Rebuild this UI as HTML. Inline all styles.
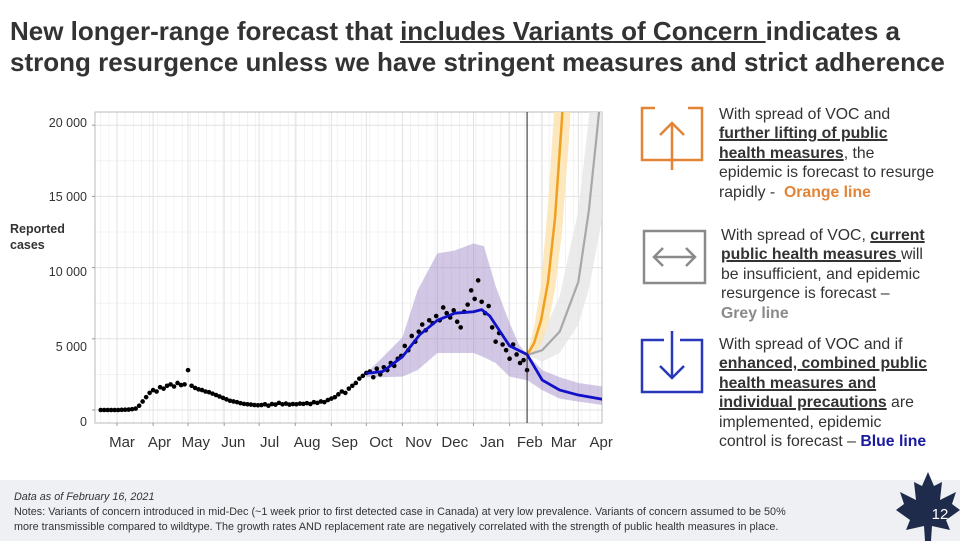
<!DOCTYPE html>
<html><head><meta charset="utf-8">
<style>
body{margin:0;width:960px;height:541px;overflow:hidden;background:#fff;font-family:"Liberation Sans",Arial,sans-serif;position:relative}
.title{position:absolute;left:10px;top:16px;font-size:26px;font-weight:bold;color:#333;line-height:31px;white-space:nowrap}
.title u{text-decoration-thickness:2px}
.txt{position:absolute;left:719px;font-size:15.8px;line-height:19.4px;color:#333;width:240px;white-space:nowrap}
.txt b{text-decoration:underline;text-decoration-thickness:1.5px}
.footer{position:absolute;left:0;top:480px;width:960px;height:61px;background:#eef0f3}
.footer div{position:absolute;left:14px;font-size:10.8px;color:#333;line-height:15px;white-space:nowrap}
</style></head><body>
<div class="title">New longer-range forecast that <u>includes Variants of Concern </u>indicates a<br>strong resurgence unless we have stringent measures and strict adherence</div>

<svg id="chart" width="620" height="460" style="position:absolute;left:0;top:100px" viewBox="0 100 620 460"></svg>

<svg style="position:absolute;left:630px;top:95px" width="90" height="360">
 <g fill="none" stroke="#e28436" stroke-width="2.5">
  <polyline points="25,13 12,13 12,65 72,65 72,13 58,13"/>
  <line x1="42" y1="75" x2="42" y2="28"/><polyline points="30,40 42,28 54,40"/>
 </g>
 <g fill="none" stroke="#8a8a8a" stroke-width="2.5">
  <rect x="14" y="136" width="61" height="52"/>
  <line x1="24" y1="162" x2="65" y2="162"/><polyline points="33,153 24,162 33,171"/><polyline points="56,153 65,162 56,171"/>
 </g>
 <g fill="none" stroke="#2838b8" stroke-width="2.5">
  <polyline points="34,245 12,245 12,297 72,297 72,245 50,245"/>
  <line x1="42" y1="236" x2="42" y2="283"/><polyline points="30,271 42,283 54,271"/>
 </g>
</svg>

<div class="txt" style="top:105px">With spread of VOC and<br><b>further lifting of public</b><br><b>health measures</b>, the<br>epidemic is forecast to resurge<br>rapidly -&nbsp; <span style="color:#e28436;font-weight:bold">Orange line</span></div>
<div class="txt" style="top:226px;left:721px">With spread of VOC, <b>current</b><br><b>public health measures </b>will<br>be insufficient, and epidemic<br>resurgence is forecast –<br><span style="color:#8a8a8a;font-weight:bold">Grey line</span></div>
<div class="txt" style="top:335px">With spread of VOC and if<br><b>enhanced, combined public</b><br><b>health measures and</b><br><b>individual precautions</b> are<br>implemented, epidemic<br>control is forecast – <span style="color:#1a1aa0;font-weight:bold">Blue line</span></div>

<div class="footer">
 <div style="top:10px;font-style:italic">Data as of February 16, 2021</div>
 <div style="top:25px">Notes: Variants of concern introduced in mid-Dec (~1 week prior to first detected case in Canada) at very low prevalence. Variants of concern assumed to be 50%<br>more transmissible compared to wildtype. The growth rates AND replacement rate are negatively correlated with the strength of public health measures in place.</div>
</div>
<svg style="position:absolute;left:896px;top:470px" width="64" height="71">
 <polygon fill="#1f2b4a" points="32,2 38,16 46,12 44,30 60,22 56,34 64,40 50,50 54,60 36,56 35,71 29,71 28,56 10,60 14,50 0,40 8,34 4,22 20,30 18,12 26,16"/>
 <text x="44" y="49" fill="#fff" font-size="15" text-anchor="middle" font-family="Liberation Sans, sans-serif">12</text>
</svg>

<script>
const monthLabels=["Mar","Apr","May","Jun","Jul","Aug","Sep","Oct","Nov","Dec","Jan","Feb","Mar","Apr"];
const monthStartDays=[0,31,61,92,122,153,184,214,245,275,306,337,365,396];
const yTicks=[0,5000,10000,15000,20000];
const yTickLabels=["0","5 000","10 000","15 000","20 000"];
const obsStartDay=-14;
const obsStep=3;
const observed=[0,0,0,0,0,0,10,20,30,60,100,
300,600,900,1200,1400,1300,1600,1500,1700,1800,1650,1900,1750,1800,
2800,1700,1550,1450,1400,1300,1250,1150,1050,950,850,750,650,600,550,480,430,400,380,350,330,
350,400,300,420,380,500,400,450,380,420,400,450,430,480,420,550,500,600,550,700,
800,900,1100,1300,1200,1500,1700,1900,2200,2400,
2600,2700,2300,2900,2500,3000,2800,3300,3100,3600,
3800,4500,4200,5200,4800,5500,6000,5600,6300,6100,
6600,6300,7200,6800,6500,7000,6200,5800,6900,7400,
8400,7800,9100,7600,6800,7300,5800,4800,5400,4600,
4200,3600,4600,3900,3300,3500,2800];
const blueDays=[214,228,245,260,275,290,306,313,320,337,352,365,380,396,417];
const blueMid=[2570,2700,3740,5300,6300,6800,6900,7050,6600,4500,3900,2100,1400,1050,750];
const bandDays=[214,228,245,258,275,290,306,315,325,337,345,352,365,380,396,417];
const bandHigh=[2570,3700,5100,8400,11000,11200,11700,11500,8700,6100,4600,3900,2800,2300,1900,1650];
const bandLow=[2300,2300,2340,2800,4000,4000,4000,3700,3300,2340,2200,2100,1400,800,590,350];
const orangeDays=[352,358,364,370,376,382,388,394];
const orangeMid=[3860,4700,6300,9000,13500,20500,30000,45000];
const orangeHigh=[3860,5800,8800,14500,22000,33000,50000,70000];
const orangeLow=[3860,4000,4600,6000,8500,12500,19000,28000];
const greyDays=[352,365,380,396,405,412,420];
const greyMid=[3860,4200,5500,9000,14000,19500,26000];
const greyHigh=[3860,5200,8000,14000,20500,29000,40000];
const greyLow=[3860,3400,4000,6000,8500,11500,15000];
const dataCutoffDay=352;

const NS="http://www.w3.org/2000/svg";
const svg=document.getElementById('chart');
const PL=95,PR=602,PT=112,PB=423;
const x=d=>117+d*1.165;
const xl=d=>122+d*1.21;
const y=v=>410-v*71.2/5000;
function mk(tag,attrs,parent){const e=document.createElementNS(NS,tag);for(const k in attrs)e.setAttribute(k,attrs[k]);(parent||svg).appendChild(e);return e;}
const defs=mk('defs',{});const cp=mk('clipPath',{id:'clip'},defs);mk('rect',{x:PL,y:PT,width:PR-PL,height:PB-PT},cp);

const grid=mk('g',{});


for(let d=-14;d<=417;d+=7){mk('line',{x1:x(d),x2:x(d),y1:PT,y2:PB,stroke:'#f0f0f0','stroke-width':0.8},grid);}
for(let v=0;v<=21000;v+=2500){mk('line',{x1:PL,x2:PR,y1:y(v),y2:y(v),stroke:v%5000?'#f0f0f0':'#e2e2e2','stroke-width':v%5000?0.8:1},grid);}
monthStartDays.forEach(d=>mk('line',{x1:x(d),x2:x(d),y1:PT,y2:PB,stroke:'#e2e2e2','stroke-width':1},grid));
mk('rect',{x:PL,y:PT,width:PR-PL,height:PB-PT,fill:'none',stroke:'#bbb','stroke-width':1});

const plot=mk('g',{'clip-path':'url(#clip)'});
function bandPath(days,hi,lo){let s='M'+days.map((d,i)=>x(d)+','+y(hi[i])).join('L');s+='L'+days.slice().reverse().map((d,i)=>x(d)+','+y(lo[lo.length-1-i])).join('L')+'Z';return s;}
function linePts(days,vals){return days.map((d,i)=>x(d)+','+y(vals[i])).join(' ');}

const gb=mk('path',{d:bandPath(greyDays,greyHigh,greyLow),fill:'#e6e6e6',opacity:0.8},plot);


const ob=mk('path',{d:bandPath(orangeDays,orangeHigh,orangeLow),fill:'#fde3b0',opacity:0.85},plot);


const bb=mk('path',{d:bandPath(bandDays,bandHigh,bandLow),fill:'#9c86c6',opacity:0.45},plot);



const gl=mk('polyline',{points:linePts(greyDays,greyMid),fill:'none',stroke:'#a8a8a8','stroke-width':2.2},plot);


const ol=mk('polyline',{points:linePts(orangeDays,orangeMid),fill:'none',stroke:'#f0a020','stroke-width':2.5},plot);



const dots=mk('g',{fill:'#000'},plot);


observed.forEach((v,i)=>{const c=mk('circle',{cx:x(obsStartDay+i*obsStep),cy:y(v),r:2.3},dots);

});

const bl=mk('polyline',{points:linePts(blueDays,blueMid),fill:'none',stroke:'#1010c8','stroke-width':2.8,'stroke-linejoin':'round'},plot);



const vl=mk('line',{x1:x(dataCutoffDay),x2:x(dataCutoffDay),y1:PT,y2:PB,stroke:'#222','stroke-width':1});



const yLabelPos=[421,346,271,196,122];
yTicks.forEach((v,i)=>{const t=mk('text',{x:87,y:yLabelPos[i]+5,'text-anchor':'end','font-size':12.5,fill:'#333'});t.textContent=yTickLabels[i];


mk('line',{x1:PL-3,x2:PL,y1:y(v),y2:y(v),stroke:'#999'});});
monthLabels.forEach((m,i)=>{const d=monthStartDays[i];mk('line',{x1:x(d),x2:x(d),y1:PB,y2:PB+3,stroke:'#999'});
const t=mk('text',{x:xl(d),y:447,'text-anchor':'middle','font-size':15,fill:'#333'});t.textContent=m;

});
const yt=mk('text',{x:10,y:233,'font-size':12.5,'font-weight':'bold',fill:'#333'});


const t1=mk('tspan',{x:10,dy:0},yt);t1.textContent='Reported';const t2=mk('tspan',{x:10,dy:16},yt);t2.textContent='cases';
</script>
</body></html>
